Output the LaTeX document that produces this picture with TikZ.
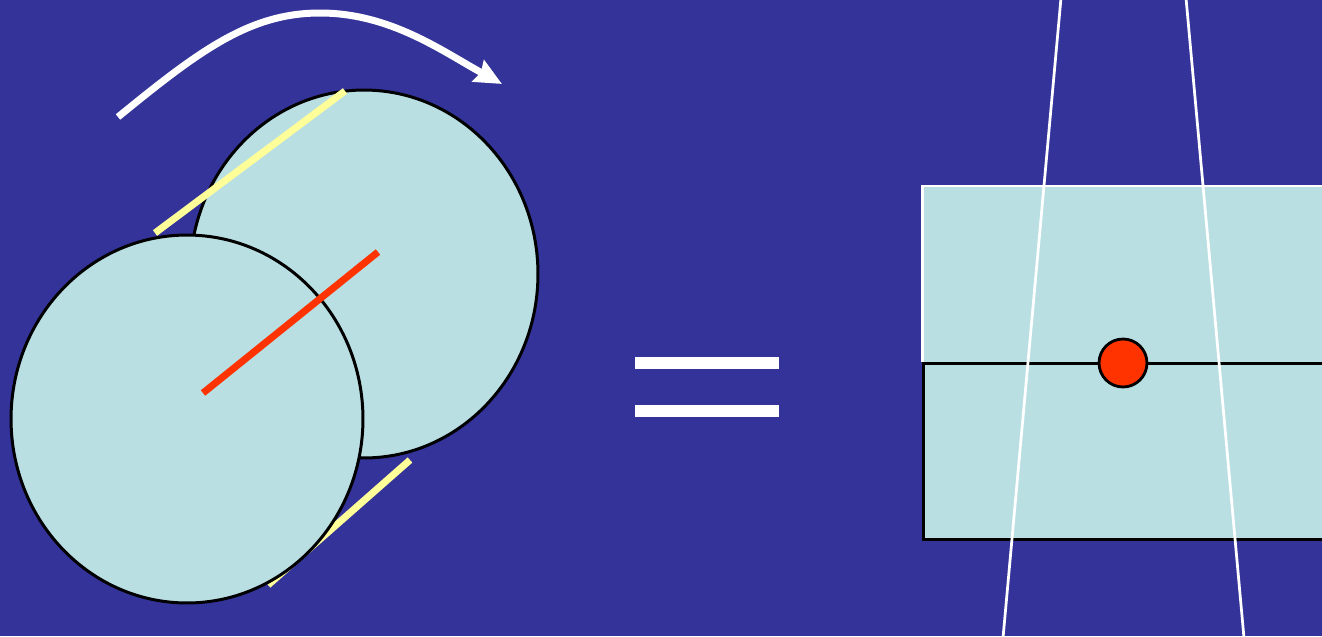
\documentclass[tikz,border=0pt]{standalone}
\usetikzlibrary{arrows.meta, shapes.geometric}
\definecolor{SlideBlue}{HTML}{333399}
\definecolor{SlideCyan}{HTML}{B9DFE2}
\definecolor{SlideYellow}{HTML}{FFFF99}
\definecolor{SlideRed}{HTML}{FF3300}
\definecolor{SlideBlack}{HTML}{000000}
\definecolor{SlideWhite}{HTML}{FFFFFF}
\tikzset{
    % discs and boxes
    disc/.style={
        ellipse,
        draw=SlideBlack,
        fill=SlideCyan,
        line width=1.7pt,
        minimum width=7cm,
        minimum height=7.36cm,
        inner sep=0pt
    },
    slab/.style={
        rectangle,
        fill=SlideCyan,
        minimum width=8.16cm,
        minimum height=3.53cm,
        inner sep=0pt,
        anchor=north west
    },
    bar/.style={
        rectangle,
        fill=SlideWhite,
        minimum width=2.88cm,
        minimum height=0.24cm,
        inner sep=0pt
    },
    pivot/.style={
        circle,
        draw=SlideBlack,
        fill=SlideRed,
        line width=1.6pt,
        minimum size=0.96cm,
        inner sep=0pt
    },
    % lines
    tangent/.style={
        draw=SlideYellow,
        line width=0.14cm
    },
    axis/.style={
        draw=SlideRed,
        line width=0.14cm
    },
    turn/.style={
        -{Stealth[length=0.54cm, width=0.48cm, inset=0.06cm]},
        draw=SlideWhite,
        line width=0.14cm
    },
    ray/.style={
        draw=SlideWhite,
        line width=0.055cm
    }
}
\begin{document}
\begin{tikzpicture}[x=0.02cm, y=-0.02cm]
    \useasboundingbox (0,0) rectangle (1322,636);
    \fill[SlideBlue] (0,0) rectangle (1322,636);
    \clip (0,0) rectangle (1322,636);

    % two discs, one behind the other
    \node[disc, minimum width=6.96cm] (back) at (364,274) {};

    \coordinate (ya) at (155,233);
    \coordinate (yb) at (345,91);
    \coordinate (yc) at (268,585);
    \coordinate (yd) at (410,460);
    \draw[tangent] (ya) -- (yb);
    \draw[tangent] (yc) -- (yd);

    \node[disc, minimum width=7.04cm] (front) at (187,419) {};

    \coordinate (ra) at (203,393);
    \coordinate (rb) at (378,252);
    \draw[axis] (ra) -- (rb);

    % rotation arrow
    \coordinate (ta) at (118,117);
    \coordinate (tb) at (320,13);
    \coordinate (tc) at (502,84);
    \draw[turn] (ta) .. controls (200,50) and (250,13) .. (tb)
        .. controls (390,13) and (442,51) .. (tc);

    % equals sign
    \node[bar] (eqa) at (707,363) {};
    \node[bar] (eqb) at (707,411) {};

    % the two slabs
    \node[slab] (upper) at (922,186) {};
    \node[slab, draw=SlideBlack, line width=1.7pt] (lower) at (922,362) {};
    \draw[SlideWhite, line width=1.7pt] (lower.north west) -- (upper.north west) -- (upper.north east);

    \node[pivot] (dot) at (1123,363) {};

    % rays
    \coordinate (la) at (1061,-2);
    \coordinate (lb) at (1003,638);
    \coordinate (ma) at (1186,-2);
    \coordinate (mb) at (1244,638);
    \draw[ray] (la) -- (lb);
    \draw[ray] (ma) -- (mb);
\end{tikzpicture}
\end{document}
